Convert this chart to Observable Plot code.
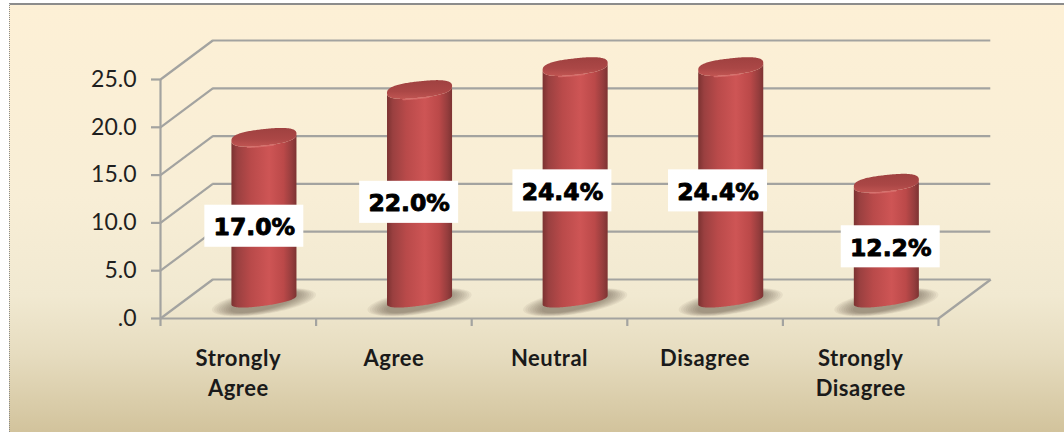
<!DOCTYPE html>
<html>
<head>
<meta charset="utf-8">
<script src="https://cdn.jsdelivr.net/npm/d3@7"></script>
<script src="https://cdn.jsdelivr.net/npm/@observablehq/plot@0.6"></script>
<style>
  html, body { margin: 0; padding: 0; background: #fff; }
  #chart { position: relative; width: 1064px; height: 432px; overflow: hidden; }
  #panel {
    position: absolute; left: 9px; top: 3px; right: 0; bottom: 0;
    border-top: 2px solid #8c8c8c; border-left: 1px dotted #8a8a8a;
    background: linear-gradient(#fdf0d6 0%, #f8eed6 45%, #f1e9d1 68%, #e6dcbf 82%, #d2c39c 100%);
  }
  #chart svg { position: absolute; left: 0; top: 0; }
  g[aria-label="x-axis tick label"] { letter-spacing: 0.5px; }
</style>
</head>
<body>
<div id="chart"><div id="panel"></div></div>
<script>
// Survey responses, percent per answer
const categories = ["Strongly\nAgree", "Agree", "Neutral", "Disagree", "Strongly\nDisagree"];
const values = [17.0, 22.0, 24.4, 24.4, 12.2];
const yTicks = [0, 5, 10, 15, 20, 25];
const yTickLabels = [".0", "5.0", "10.0", "15.0", "20.0", "25.0"];

// Pseudo-3D geometry, in scale units (x: one category per unit, y: percent)
const depthX = 0.336;
const depthY = 4.08;
const barInset = depthX / 2;
const floorY = 1.9;
const radius = 0.209;
const capB = 0.86;
const capTilt = 0.36;
const baseB = 0.62;
const baseTilt = 0.46;
const labelShiftX = [-0.065, -0.07, -0.085, -0.085, 0.025];
const labelShiftY = [0, 0, 0, 0, 0.25];
const boxW = 0.318;
const boxH = 2.2;

const barX = (i) => i + 0.5 + barInset;
const steps = d3.range(0, 81).map((k) => -Math.cos((k / 80) * Math.PI));

// Lower and upper arcs of a tilted, slightly squared ellipse, one row per horizontal step
const ellipse = (cx, cy, r, b, tilt, p = 2) =>
  steps.map((c) => {
    const h = b * Math.pow(1 - Math.pow(Math.abs(c), p), 1 / p);
    return { x: cx + r * c, lo: cy + tilt * c - h, hi: cy + tilt * c + h };
  });

const bodies = values.flatMap((v, i) => {
  const base = ellipse(barX(i), floorY, radius, baseB, baseTilt, 2.3);
  const top = ellipse(barX(i), floorY + v, radius, capB, capTilt, 2.6);
  return steps.map((_, k) => ({ i, x: base[k].x, y1: base[k].lo, y2: top[k].lo }));
});
const caps = values.flatMap((v, i) =>
  ellipse(barX(i), floorY + v, radius, capB, capTilt, 2.6).map((p) => ({ i, ...p }))
);
// Highlight along the middle of each cap's front rim
const rims = caps.filter((d) => {
  const t = (d.x - barX(d.i)) / radius;
  return t > -0.55 && t < 0.3;
});
const shadows = values.flatMap((v, i) =>
  d3.range(1, 0.62, -0.045).flatMap((k) =>
    ellipse(barX(i), floorY - 0.25, radius * 1.6 * k, 1.25 * k, 0.78, 2).map((p) => ({
      key: `${i}-${k}`, ...p
    }))
  )
);
const boxes = values.map((v, i) => ({
  v,
  cx: barX(i) + labelShiftX[i],
  cy: v / 2 + 1.15 + labelShiftY[i]
}));

const wallLines = "#a3a3a0";
const lineWidth = 2.2;

// Shading for the cylinder bodies (horizontal) and their caps (vertical)
const gradients = () => {
  const defs = d3.create("svg:defs");
  const ramp = (id, vertical, stops) => {
    const g = defs.append("linearGradient").attr("id", id)
      .attr("x1", 0).attr("x2", vertical ? 0 : 1)
      .attr("y1", 0).attr("y2", vertical ? 1 : 0);
    for (const [offset, color] of stops) {
      g.append("stop").attr("offset", offset).attr("stop-color", color);
    }
  };
  ramp("cylinder", false, [[0, "#7b3231"], [0.09, "#9a4040"], [0.3, "#b94a4a"], [0.58, "#ce5555"],
    [0.8, "#bb4949"], [0.93, "#953d3d"], [1, "#7d3332"]]);
  ramp("cap", true, [[0, "#9f4140"], [0.6, "#ab4746"], [1, "#c05552"]]);
  return defs.node();
};

const chart = Plot.plot({
  width: 1064,
  height: 432,
  marginLeft: 160,
  marginRight: 126,
  marginTop: 79,
  marginBottom: 114,
  style: { background: "transparent", fontFamily: "Lato, sans-serif", overflow: "visible" },
  x: { domain: [0, 5] },
  y: { domain: [0, 25] },
  marks: [
    gradients,

    // back wall and floor grid
    Plot.ruleY(yTicks, {
      x1: depthX, x2: 5 + depthX,
      y: (d) => d + depthY,
      stroke: wallLines, strokeWidth: lineWidth
    }),
    // side wall diagonals
    Plot.link(yTicks, {
      x1: 0, x2: depthX,
      y1: (d) => d, y2: (d) => d + depthY,
      stroke: wallLines, strokeWidth: lineWidth
    }),
    Plot.link([0], {
      x1: 5, x2: 5 + depthX,
      y1: 0, y2: depthY,
      stroke: wallLines, strokeWidth: lineWidth
    }),
    Plot.ruleY([0], { stroke: wallLines, strokeWidth: lineWidth }),
    Plot.ruleX([0], { y1: 0, y2: 25, stroke: wallLines, strokeWidth: lineWidth }),

    // axes
    Plot.axisY({
      ticks: yTicks,
      tickFormat: (d) => yTickLabels[yTicks.indexOf(d)],
      tickSize: 9,
      tickPadding: 15,
      stroke: wallLines,
      strokeWidth: lineWidth,
      strokeOpacity: 1,
      fill: "#1f1f1f",
      fontSize: 23,
      label: null
    }),
    Plot.axisX({
      ticks: d3.range(0, 6),
      tickFormat: () => "",
      tickSize: 8,
      stroke: wallLines,
      strokeWidth: lineWidth,
      strokeOpacity: 1,
      label: null
    }),
    Plot.axisX({
      ticks: categories.map((_, i) => i + 0.5),
      tickFormat: (d) => categories[d - 0.5],
      tickSize: 0,
      tickPadding: 26,
      lineHeight: 1.36,
      fill: "#1a1a1a",
      fontSize: 22,
      fontWeight: 700,
      label: null
    }),

    // soft contact shadows on the floor
    Plot.areaY(shadows, {
      x: "x", y1: "lo", y2: "hi", z: "key",
      fill: "#4e4d38", fillOpacity: 0.07, curve: "linear"
    }),

    // cylinders
    Plot.areaY(bodies, { x: "x", y1: "y1", y2: "y2", z: "i", fill: "url(#cylinder)" }),
    Plot.areaY(caps, { x: "x", y1: "lo", y2: "hi", z: "i", fill: "url(#cap)" }),
    Plot.line(rims, { x: "x", y: "lo", z: "i", stroke: "#d9716e", strokeWidth: 1.5, strokeOpacity: 0.8 }),

    // value labels
    Plot.rect(boxes, {
      x1: (d) => d.cx - boxW, x2: (d) => d.cx + boxW,
      y1: (d) => d.cy - boxH, y2: (d) => d.cy + boxH,
      fill: "white"
    }),
    Plot.text(boxes, {
      x: "cx", y: "cy",
      dy: 1.5,
      text: (d) => `${d.v.toFixed(1)}%`,
      fontFamily: "'DejaVu Sans', sans-serif",
      fontWeight: 900,
      fontSize: 23.5,
      fill: "#000",
      stroke: "#000",
      strokeWidth: 0.9
    })
  ]
});

document.getElementById("chart").appendChild(chart);
</script>
</body>
</html>
